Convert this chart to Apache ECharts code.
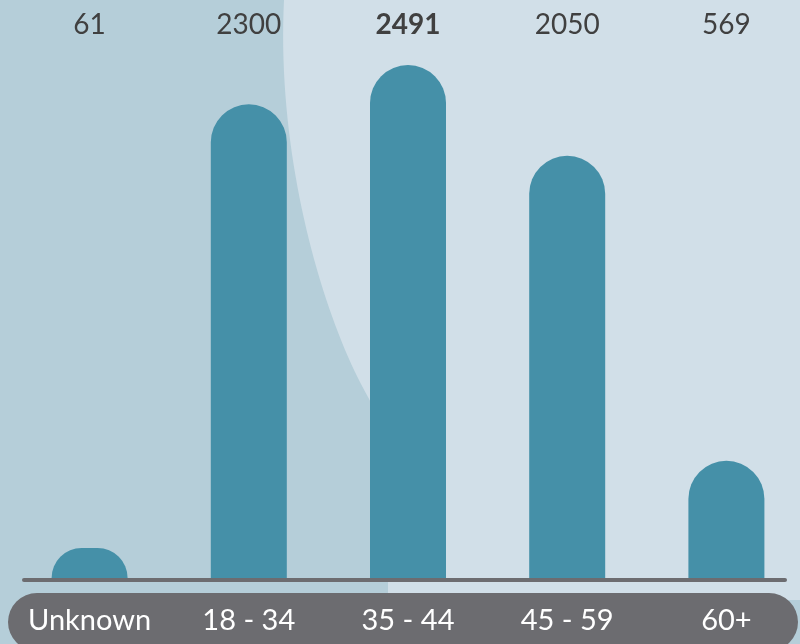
<!DOCTYPE html>
<html>
<head>
<meta charset="utf-8">
<script src="https://cdn.jsdelivr.net/npm/echarts@6/dist/echarts.min.js"></script>
<style>
  html, body { margin: 0; padding: 0; }
  #main { width: 800px; height: 644px; }
</style>
</head>
<body>
<div id="main"></div>
<script>
// age groups
var categories = ['Unknown', '18 - 34', '35 - 44', '45 - 59', '60+'];
var counts = [61, 2300, 2491, 2050, 569];

var font = 'Lato, "Open Sans", sans-serif';
var maxCount = Math.max.apply(null, counts);

// outline of the lighter backdrop shape (two cubic curves, sampled)
function cubic(p0, p1, p2, p3, n) {
    var pts = [];
    for (var i = 0; i <= n; i++) {
        var t = i / n, u = 1 - t;
        pts.push([
            u*u*u*p0[0] + 3*u*u*t*p1[0] + 3*u*t*t*p2[0] + t*t*t*p3[0],
            u*u*u*p0[1] + 3*u*u*t*p1[1] + 3*u*t*t*p2[1] + t*t*t*p3[1]
        ]);
    }
    return pts;
}
var backdrop = cubic([284, 0], [276, 160], [324, 320], [368, 397], 40)
    .concat(cubic([368, 397], [390, 435], [388, 500], [388, 600], 20))
    .concat([[800, 600], [800, 0]]);

var chart = echarts.init(document.getElementById('main'));

var option = {
    backgroundColor: '#b5ced9',
    animation: false,
    grid: { left: 10, right: -6, top: 65, bottom: 66, outerBoundsMode: 'none' },
    graphic: [
        { type: 'polygon', z: -10, silent: true,
          shape: { points: backdrop },
          style: { fill: '#d1dfe8' } },
        // baseline
        { type: 'rect', z: -1, silent: true,
          shape: { x: 22, y: 578, width: 765, height: 4, r: 2 },
          style: { fill: '#6c6c70' } },
        // dark pill under the category names
        { type: 'rect', z: -1, silent: true,
          shape: { x: 8, y: 593, width: 790, height: 58, r: 29 },
          style: { fill: '#6c6c70' } }
    ],
    xAxis: [
        {
            type: 'category',
            data: categories,
            axisLine: { show: false },
            axisTick: { show: false },
            axisLabel: { interval: 0, color: '#ffffff', fontSize: 29, fontFamily: font, margin: 28 }
        },
        {
            type: 'category',
            position: 'top',
            data: counts.map(String),
            axisLine: { show: false },
            axisTick: { show: false },
            axisLabel: {
                interval: 0,
                margin: 26,
                formatter: function (v) {
                    return Number(v) === maxCount ? '{b|' + v + '}' : '{n|' + v + '}';
                },
                rich: {
                    n: { color: '#404040', fontSize: 28, fontFamily: font },
                    b: { color: '#404040', fontSize: 28, fontFamily: font, fontWeight: 'bold' }
                }
            }
        }
    ],
    yAxis: {
        type: 'value',
        min: 0,
        max: function (v) { return v.max; },
        show: false,
        splitLine: { show: false }
    },
    series: [{
        type: 'bar',
        data: counts,
        barWidth: 76,
        barMinHeight: 30,
        itemStyle: { color: '#4590a8', borderRadius: [38, 38, 0, 0] }
    }]
};

chart.setOption(option);
</script>
</body>
</html>
